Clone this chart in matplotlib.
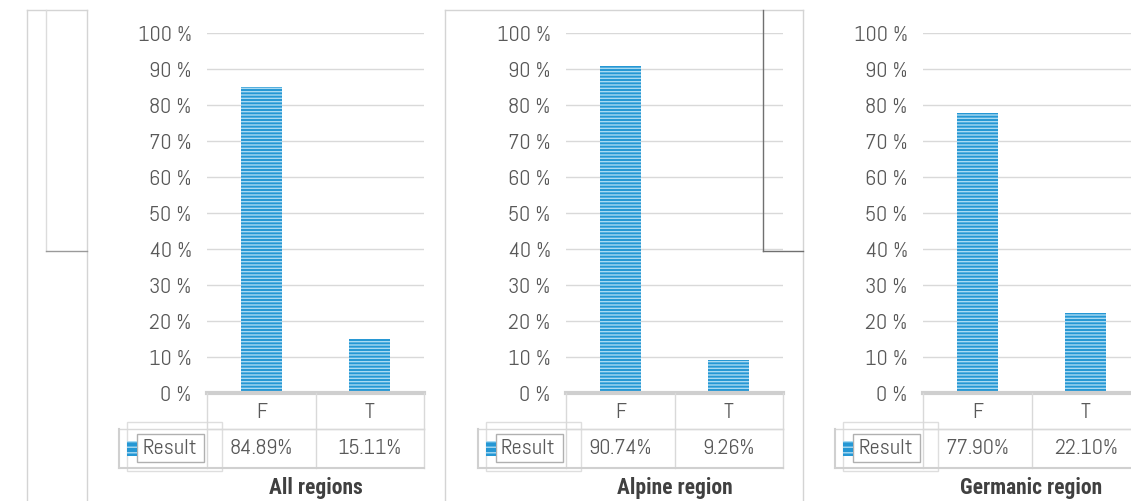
import matplotlib
matplotlib.use('agg')
import matplotlib.pyplot as plt
from matplotlib.lines import Line2D
from matplotlib.patches import Rectangle

W, H = 1131, 502

regions = ['All regions', 'Alpine region', 'Germanic region']
categories = ['F', 'T']
share_f = [84.89, 90.74, 77.90]
share_t = [15.11, 9.26, 22.10]
yticks = list(range(0, 101, 10))
series_name = 'Result'

plt.rcParams['font.family'] = ['Abel', 'DejaVu Sans']
plt.rcParams['hatch.linewidth'] = 1.0
title_font = ['Roboto Condensed', 'Roboto', 'DejaVu Sans']

grey_txt = '#595959'
grid_col = '#d9d9d9'
bar_col = '#2597d4'
stripe_col = '#a9daf2'
fs = 16

fig = plt.figure(figsize=(W / 100, H / 100), dpi=100)


def fx(x):
    return x / W


def fy(y):
    return 1 - y / H


def hline(x1, x2, y, color=grid_col, lw=1.0):
    fig.add_artist(Line2D([fx(x1), fx(x2)], [fy(y), fy(y)], color=color, lw=lw))


def vline(x, y1, y2, color=grid_col, lw=1.0):
    fig.add_artist(Line2D([fx(x), fx(x)], [fy(y1), fy(y2)], color=color, lw=lw))


# outer frames of the chart objects behind the panels
vline(27, 11, 502, '#d4d4d4')
vline(87, 11, 502, '#d4d4d4')
hline(27, 87, 11, '#d4d4d4')
vline(46, 11, 252, '#dcdcdc')
hline(46, 87, 252, '#9a9a9a')
vline(445, 11, 502, '#d4d4d4')
vline(803, 11, 502, '#d4d4d4')
hline(445, 803, 11, '#d4d4d4')
vline(763, 11, 252, '#707070')
hline(763, 803, 252, '#707070')

left_px = [207, 566, 923]
ax_w, top, base = 217, 34, 394

for i, region in enumerate(regions):
    x0 = left_px[i]
    ax = fig.add_axes([fx(x0), fy(base), ax_w / W, (base - top) / H])
    vals = [share_f[i], share_t[i]]
    ax.bar(range(len(categories)), vals, width=0.38, color=bar_col,
           hatch='-----', edgecolor=stripe_col, linewidth=0, zorder=3)
    ax.set_xlim(-0.5, 1.5)
    ax.set_ylim(0, 100)
    ax.set_yticks(yticks)
    ax.set_yticklabels([f'{t} %' for t in yticks], color=grey_txt, fontsize=fs)
    ax.tick_params(axis='y', length=0, pad=11)
    ax.set_xticks([])
    ax.grid(axis='y', color=grid_col, lw=1.0, zorder=0)
    for s in ax.spines.values():
        s.set_visible(False)
    ax.axhline(0, color='#cfcfcf', lw=3, zorder=4, clip_on=False)

    # data table under the axis
    xc = x0 + ax_w / 2
    for xv in (x0, xc, x0 + ax_w):
        vline(xv, base, 469)
    hline(x0, x0 + ax_w, 430)
    hline(x0 - 88, x0 + ax_w, 430)
    hline(x0 - 88, x0 + ax_w, 469, '#d0d0d0', 1.5)
    vline(x0 - 88, 430, 469, '#d0d0d0', 1.5)
    fig.add_artist(Rectangle((fx(x0 - 80), fy(472)), 95 / W, 49 / H, fill=False,
                             ec='#dedede', lw=1.0))
    fig.add_artist(Rectangle((fx(x0 - 70), fy(463)), 67 / W, 28 / H, fill=False,
                             ec='#b0b0b0', lw=1.0))
    fig.add_artist(Rectangle((fx(x0 - 80), fy(457)), 10 / W, 15 / H, color=bar_col,
                             hatch='---', ec=stripe_col, lw=0))
    fig.text(fx(x0 - 65), fy(449), series_name, color=grey_txt, fontsize=fs,
             ha='left', va='center')
    for j, c in enumerate(categories):
        cx = x0 + ax_w / 4 + j * ax_w / 2
        fig.text(fx(cx), fy(412), c, color=grey_txt, fontsize=fs, ha='center', va='center')
        fig.text(fx(cx), fy(449), f'{vals[j]:.2f}%', color=grey_txt, fontsize=fs,
                 ha='center', va='center')
    fig.text(fx(xc), fy(488), region, color='#404040', fontsize=15.5, fontweight='bold',
             family=title_font, ha='center', va='center')

fig.savefig('out.png', dpi=100)
